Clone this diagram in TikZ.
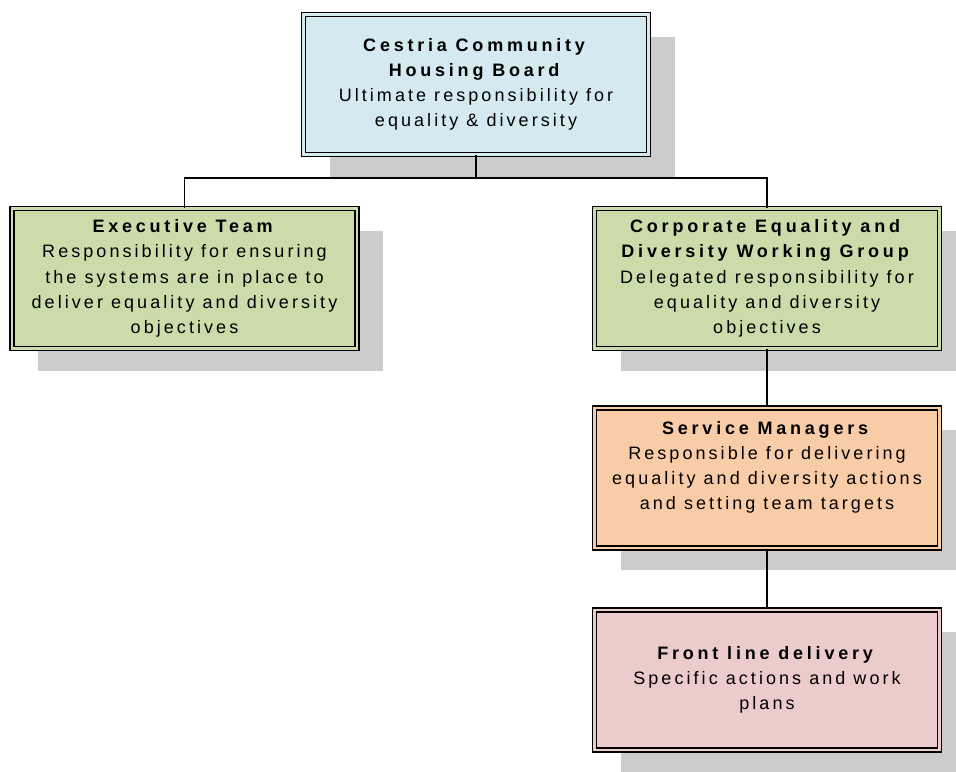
\documentclass[tikz,border=0pt]{standalone}
\usepackage{fontspec}
\setmainfont{Liberation Sans}[LetterSpace=17]
\usepackage{tikz}
\usetikzlibrary{shadows,positioning}

\definecolor{boardblue}{RGB}{212,234,240}
\definecolor{teamgreen}{RGB}{204,219,170}
\definecolor{managerorange}{RGB}{249,204,168}
\definecolor{frontpink}{RGB}{236,203,203}

\newcommand{\boxtitle}[1]{\textbf{\addfontfeature{LetterSpace=21}#1}}

\begin{document}
\begin{tikzpicture}
[
	x	= 0.75pt,	% one unit is one pixel of the layout
	y	= -0.75pt,	% downwards, as in the layout
	orgbox/.style	= {draw=black, line width=1.1pt, double distance=2.2pt,
		minimum width=258.75pt, minimum height=105pt, inner sep=0pt,
		align=center, font=\fontsize{13.5}{18.9}\selectfont,
		drop shadow={shadow xshift=19.5pt, shadow yshift=-16.5pt, fill=black!20, opacity=1}},
	link/.style	= {draw=black, line width=1pt},
]

\useasboundingbox (0,0) rectangle (956,771);

\node [orgbox, fill=boardblue, double=boardblue] (board) at (476,84.5)
	{\boxtitle{Cestria Community}\\ \boxtitle{Housing Board}\\ Ultimate responsibility for\\ equality \& diversity};
\node [orgbox, fill=teamgreen, double=teamgreen] (exec) at (184.5,278.5)
	{\boxtitle{Executive Team}\\ Responsibility for ensuring\\ the systems are in place to\\ deliver equality and diversity\\ objectives};
\node [orgbox, fill=teamgreen, double=teamgreen] (corp) at (767,278.5)
	{\boxtitle{Corporate Equality and}\\ \boxtitle{Diversity Working Group}\\ Delegated responsibility for\\ equality and diversity\\ objectives};
\node [orgbox, fill=managerorange, double=managerorange] (service) at (767,478)
	{\boxtitle{Service Managers}\\ Responsible for delivering\\ equality and diversity actions\\ and setting team targets\\ \mbox{}};
\node [orgbox, fill=frontpink, double=frontpink] (front) at (767,680)
	{\boxtitle{Front line delivery}\\ Specific actions and work\\ plans};

\coordinate (bus) at (476,178);

\draw [link] (board.south) -- (bus);
\draw [link] (exec.north) |- (bus) -| (corp.north);
\draw [link] (corp.south) -- (service.north);
\draw [link] (service.south) -- (front.north);

\end{tikzpicture}
\end{document}
